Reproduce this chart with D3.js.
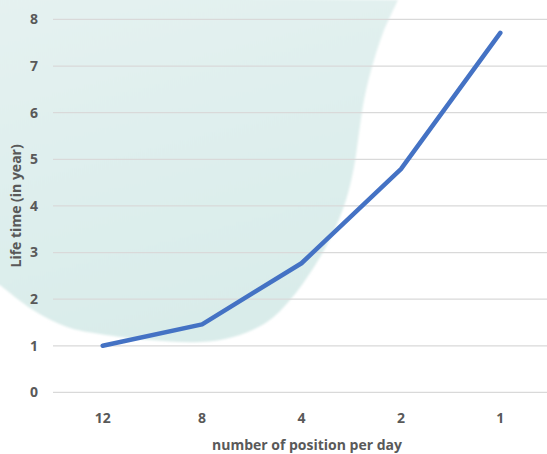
<!DOCTYPE html>
<html>
<head>
<meta charset="utf-8">
<script src="https://cdn.jsdelivr.net/npm/d3@7"></script>
<style>
  body { margin: 0; background: #fff; }
  text { font-family: "Open Sans", sans-serif; fill: #595959; }
</style>
</head>
<body>
<div id="chart"></div>
<script>
// data
var categories = ['12', '8', '4', '2', '1'];
var lifeTime = [1.0, 1.46, 2.77, 4.79, 7.71];
var yTicks = [0, 1, 2, 3, 4, 5, 6, 7, 8];

// background blob outline (decoration, pixels)
var blobEdge = [[398,0],[383,33],[372,67],[364,100],[359,133],[354,167],[346,200],
    [333,233],[314,267],[290,300],[267,322],[233,337],[200,342],[150,340],
    [100,334],[67,327],[33,310],[0,285]];

var W = 547, H = 454;
var margin = {top: 19.4, left: 53, right: -3, bottom: 61};

var svg = d3.select('#chart').append('svg')
    .attr('width', W)
    .attr('height', H);

var defs = svg.append('defs');
var grad = defs.append('linearGradient')
    .attr('id', 'blobfill')
    .attr('x1', 0).attr('y1', 0).attr('x2', 0.3).attr('y2', 1);
grad.append('stop').attr('offset', 0).attr('stop-color', '#e5f2f1');
grad.append('stop').attr('offset', 1).attr('stop-color', '#d9ecea');

defs.append('filter').attr('id', 'soft')
    .append('feGaussianBlur').attr('stdDeviation', 1.2);

// blob
var blobLine = d3.line().curve(d3.curveCatmullRom);
svg.append('path')
    .attr('d', 'M-5,-5L' + blobLine(blobEdge).slice(1) + 'L-5,285Z')
    .attr('fill', 'url(#blobfill)')
    .attr('filter', 'url(#soft)');

var x = d3.scaleBand()
    .domain(categories)
    .range([margin.left, W - margin.right]);

var y = d3.scaleLinear()
    .domain([0, 8])
    .range([H - margin.bottom - 0.6, margin.top]);

// gridlines
svg.append('g')
    .selectAll('line')
    .data(yTicks)
    .enter()
    .append('line')
    .attr('x1', margin.left)
    .attr('x2', W)
    .attr('y1', function (d) { return y(d); })
    .attr('y2', function (d) { return y(d); })
    .attr('stroke', '#d9d9d9')
    .attr('stroke-width', 1.3);

// y tick labels
svg.append('g')
    .selectAll('text')
    .data(yTicks)
    .enter()
    .append('text')
    .attr('x', 38)
    .attr('y', function (d) { return y(d); })
    .attr('dy', '0.35em')
    .attr('text-anchor', 'end')
    .attr('font-size', 14)
    .attr('font-weight', 'bold')
    .text(function (d) { return d; });

// x tick labels
svg.append('g')
    .selectAll('text')
    .data(categories)
    .enter()
    .append('text')
    .attr('x', function (d) { return x(d) + x.bandwidth() / 2; })
    .attr('y', 418)
    .attr('dy', '0.35em')
    .attr('text-anchor', 'middle')
    .attr('font-size', 14)
    .attr('font-weight', 'bold')
    .text(function (d) { return d; });

// axis titles
svg.append('text')
    .attr('x', 307)
    .attr('y', 450)
    .attr('text-anchor', 'middle')
    .attr('font-size', 14)
    .attr('font-weight', 'bold')
    .text('number of position per day');

svg.append('text')
    .attr('transform', 'translate(21,' + (y(4)) + ') rotate(-90)')
    .attr('text-anchor', 'middle')
    .attr('font-size', 14)
    .attr('font-weight', 'bold')
    .text('Life time (in year)');

// line
var line = d3.line()
    .x(function (d, i) { return x(categories[i]) + x.bandwidth() / 2; })
    .y(function (d) { return y(d); });

svg.append('path')
    .datum(lifeTime)
    .attr('d', line)
    .attr('fill', 'none')
    .attr('stroke', '#4472c4')
    .attr('stroke-width', 4.5)
    .attr('stroke-linecap', 'round')
    .attr('stroke-linejoin', 'round');
</script>
</body>
</html>
